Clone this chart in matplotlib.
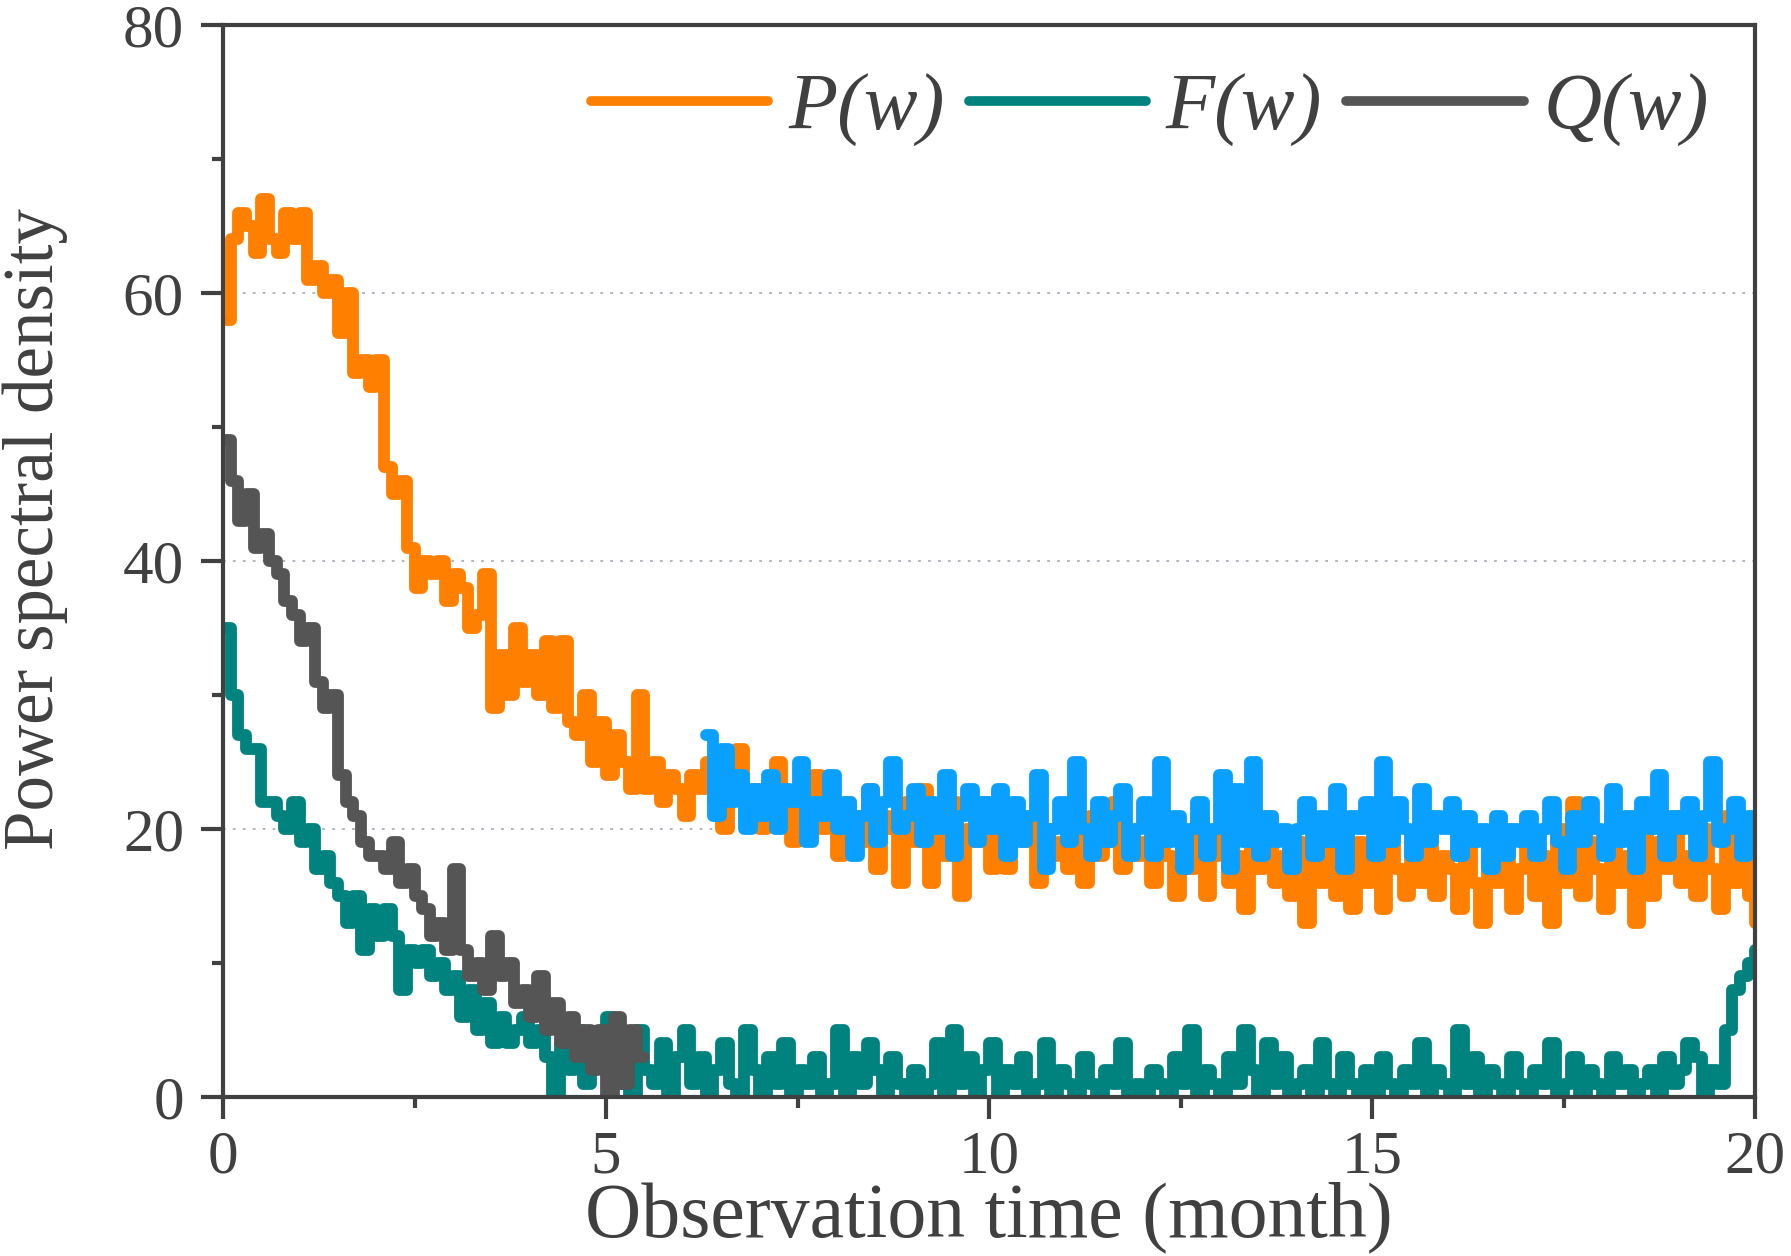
import numpy as np
import matplotlib.pyplot as plt
from matplotlib.ticker import MultipleLocator

# sampling of the step curves (months)
step = 0.1
blue_start = 6.3

# P(w), orange, 0 .. 20
P_w = [58, 64, 66, 65, 63, 67, 64, 63, 66, 64,
       66, 61, 62, 60, 61, 57, 60, 54, 55, 53,
       55, 47, 45, 46, 41, 38, 40, 39, 40, 37,
       39, 38, 35, 36, 39, 29, 33, 30, 35, 31,
       33, 30, 34, 29, 34, 28, 27, 30, 25, 28,
       24, 27, 25, 23, 30, 23, 25, 22, 24, 23,
       21, 24, 23, 25, 22, 20, 24, 26, 21, 23,
       20, 21, 25, 22, 19, 23, 21, 24, 20, 22,
       18, 22, 21, 19, 23, 17, 21, 20, 16, 22,
       19, 23, 16, 21, 18, 22, 15, 20, 19, 22,
       17, 21, 17, 20, 19, 21, 16, 20, 18, 19,
       17, 20, 16, 21, 18, 19, 22, 17, 20, 18,
       19, 16, 20, 18, 15, 19, 17, 21, 15, 18,
       20, 16, 18, 14, 19, 17, 21, 16, 18, 15,
       19, 13, 18, 16, 20, 15, 17, 14, 19, 16,
       18, 14, 20, 17, 15, 19, 16, 21, 15, 18,
       17, 14, 19, 16, 13, 18, 16, 20, 14, 17,
       19, 15, 18, 13, 20, 16, 22, 15, 19, 17,
       14, 21, 16, 18, 13, 20, 15, 19, 17, 21,
       16, 18, 15, 20, 17, 14, 21, 16, 19, 15,
       13]

# F(w), teal, 0 .. 20
F_w = [35, 30, 27, 26, 26, 22, 22, 21, 20, 22,
       19, 20, 17, 18, 16, 15, 13, 15, 11, 14,
       12, 14, 12, 8, 11, 10, 11, 9, 10, 8,
       9, 6, 8, 5, 7, 4, 6, 4, 5, 6,
       4, 5, 3, 0, 4, 2, 5, 1, 4, 3,
       6, 1, 4, 0, 5, 2, 1, 4, 0, 3,
       5, 1, 3, 0, 2, 4, 1, 0, 5, 2,
       0, 3, 1, 4, 0, 2, 1, 3, 0, 1,
       5, 0, 3, 1, 4, 2, 0, 3, 1, 0,
       2, 0, 1, 4, 0, 5, 1, 3, 0, 2,
       4, 0, 2, 1, 3, 0, 1, 4, 0, 2,
       1, 0, 3, 1, 0, 2, 1, 4, 0, 1,
       0, 2, 1, 0, 3, 1, 5, 0, 2, 1,
       0, 3, 1, 5, 2, 0, 4, 1, 3, 0,
       1, 2, 0, 4, 1, 0, 3, 1, 0, 2,
       0, 3, 1, 0, 2, 1, 4, 0, 2, 1,
       0, 5, 1, 3, 0, 2, 1, 0, 3, 1,
       0, 2, 1, 4, 0, 1, 3, 0, 2, 1,
       0, 3, 1, 2, 0, 1, 2, 0, 3, 1,
       2, 4, 3, 0, 2, 1, 5, 8, 9, 10,
       11]

# Q(w), dark grey, 0 .. 5.4
Q_w = [49, 46, 43, 45, 41, 42, 40, 39, 37, 36,
       34, 35, 31, 29, 30, 24, 22, 21, 19, 18,
       18, 17, 19, 16, 17, 15, 14, 12, 13, 11,
       17, 11, 9, 10, 8, 12, 9, 10, 7, 8,
       6, 9, 5, 7, 4, 6, 3, 5, 2, 5,
       0, 6, 1, 5, 3, 3]

# unlabelled light blue series, 6.3 .. 20
B_w = [27, 21, 26, 22, 24, 20, 23,
       21, 24, 20, 23, 22, 25, 19, 22, 21, 24,
       20, 22, 18, 21, 23, 19, 22, 25, 20, 21,
       23, 19, 22, 20, 24, 18, 21, 23, 19, 22,
       20, 23, 18, 22, 19, 21, 24, 17, 20, 22,
       19, 25, 20, 18, 22, 19, 21, 23, 18, 20,
       22, 18, 25, 19, 21, 17, 20, 22, 18, 20,
       24, 17, 23, 19, 25, 18, 21, 19, 20, 17,
       20, 22, 18, 21, 19, 23, 17, 21, 20, 22,
       18, 25, 19, 22, 20, 18, 23, 19, 21, 20,
       22, 18, 21, 19, 20, 17, 21, 18, 20, 19,
       21, 18, 20, 22, 19, 17, 21, 19, 22, 20,
       18, 23, 19, 21, 17, 22, 20, 24, 18, 21,
       20, 22, 18, 21, 25, 19, 20, 22, 18, 21,
       20]

c_text = '#404040'
plt.rcParams['font.family'] = ['Liberation Serif', 'DejaVu Serif']

fig = plt.figure(figsize=(17.91, 12.56), dpi=100)
ax = fig.add_axes([0.1245, 0.1266, 0.8555, 0.8535])

t_P = np.arange(len(P_w)) * step
t_F = np.arange(len(F_w)) * step
t_Q = np.arange(len(Q_w)) * step
t_B = blue_start + np.arange(len(B_w)) * step

kw = dict(where='post', lw=8.5, solid_joinstyle='round', solid_capstyle='round')
ax.step(t_P, P_w, color='#ff8000', label='P(w)', **kw)
ax.step(t_F, F_w, color='#00827f', label='F(w)', **kw)
ax.step(t_Q, Q_w, color='#555555', label='Q(w)', **kw)
ax.step(t_B, B_w, color='#0aa0ff', **kw)

ax.set_xlim(0, 20)
ax.set_ylim(0, 80)
ax.xaxis.set_major_locator(MultipleLocator(5))
ax.xaxis.set_minor_locator(MultipleLocator(2.5))
ax.yaxis.set_major_locator(MultipleLocator(20))
ax.yaxis.set_minor_locator(MultipleLocator(10))

for g in (20, 40, 60):
    ax.axhline(g, color='#a8b0ba', lw=1.3, ls=(0, (1.5, 4)), zorder=0)

for s in ax.spines.values():
    s.set_linewidth(3)
    s.set_color(c_text)
ax.tick_params(which='major', direction='out', length=16, width=3, color=c_text,
               labelsize=44, labelcolor=c_text)
ax.tick_params(which='minor', direction='out', length=8, width=3, color=c_text)
ax.tick_params(axis='y', which='major', pad=12)
ax.tick_params(axis='x', which='major', pad=8)

ax.set_xlabel('Observation time (month)', fontsize=56, color=c_text, labelpad=-3)
ax.set_ylabel('Power spectral density', fontsize=51, color=c_text)
ax.yaxis.set_label_coords(-0.101, 0.53)

leg = ax.legend(loc='upper right', bbox_to_anchor=(0.97, 0.955), ncol=3, frameon=False,
                prop={'family': 'Liberation Serif', 'style': 'italic', 'size': 58},
                handlelength=2.2, handletextpad=0.25, columnspacing=0.3, borderpad=0,
                borderaxespad=0)
for txt in leg.get_texts():
    txt.set_color(c_text)
for h in leg.get_lines():
    h.set_linewidth(7)

fig.savefig('out.png', dpi=100)
